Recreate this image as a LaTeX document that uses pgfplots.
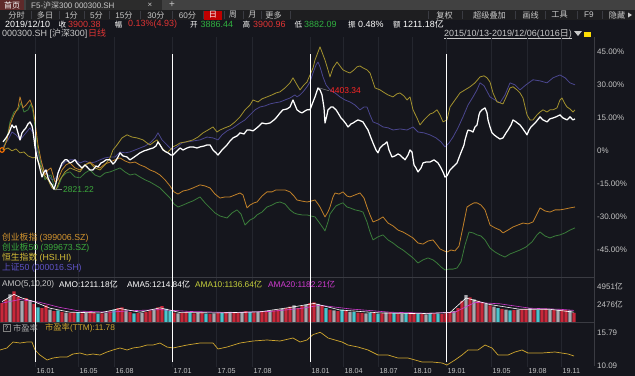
\documentclass[border=0pt]{standalone}
\usepackage{fontspec}
\setmainfont{Liberation Sans}
\newfontfamily\cjk{Noto Sans CJK SC}
\newcommand\zh[1]{{\cjk #1}}
\newcommand\fs[1]{\fontsize{#1}{#1}\selectfont}
\usepackage{pgfplots}
\pgfplotsset{compat=1.18}
\usepackage{pgfplotstable}
\definecolor{bg}{HTML}{15161D}
\definecolor{hdrA}{HTML}{414141}
\definecolor{hdrB}{HTML}{1E1E20}
\definecolor{tabred}{HTML}{5E2A2A}
\definecolor{tabdark}{HTML}{2C2C2C}
\definecolor{txtg}{HTML}{C8C8C8}
\definecolor{sepc}{HTML}{3A3B42}
\definecolor{gridc}{HTML}{24262E}
\definecolor{tickc}{HTML}{C4C4C4}
\definecolor{upred}{HTML}{E03434}
\definecolor{dngreen}{HTML}{30B040}
\definecolor{lnorange}{HTML}{C08029}
\definecolor{lngreen}{HTML}{3A7B3A}
\definecolor{lnhsi}{HTML}{A3922E}
\definecolor{lnpurple}{HTML}{4A468E}
\definecolor{lgorange}{HTML}{D4952E}
\definecolor{lggreen}{HTML}{3CAA3C}
\definecolor{lghsi}{HTML}{D8C038}
\definecolor{lgpurple}{HTML}{5E52C4}
\definecolor{barred}{HTML}{C8283A}
\definecolor{bargrey}{HTML}{A8A8AE}
\definecolor{barcyan}{HTML}{4CC4CC}
\definecolor{ama10}{HTML}{C8D23C}
\definecolor{ama20}{HTML}{D03CD0}
\definecolor{peyel}{HTML}{CFA62E}

\pgfplotstableread{
x v k
2 2600 1
6 3100 1
10 3800 2
14 4200 1
18 3500 1
22 2900 2
26 3300 1
30 3000 2
34 2500 1
38 2000 3
42 1900 1
46 2300 1
50 1700 2
54 1500 1
58 1600 3
62 1400 1
66 1300 2
70 1250 1
74 1300 1
78 1350 3
82 1200 1
86 1300 2
90 1400 1
94 1250 1
98 1150 3
102 1200 1
106 1300 2
110 1450 1
114 1700 3
118 1900 1
122 2000 1
126 1600 2
130 1350 1
134 1200 3
138 1250 1
142 1300 2
146 1400 1
150 1550 1
154 1700 2
158 2000 1
162 2200 1
166 1800 3
170 1500 3
174 1300 1
178 1200 2
182 1250 1
186 1350 1
190 1300 3
194 1200 1
198 1250 2
202 1300 1
206 1150 3
210 1100 1
214 1200 2
218 1250 1
222 1300 3
226 1350 1
230 1400 2
234 1300 1
238 1250 1
242 1350 2
246 1500 1
250 1400 3
254 1300 1
258 1350 2
262 1450 1
266 1500 1
270 1550 2
274 1600 1
278 1700 1
282 1800 2
286 1900 1
290 2100 1
294 2300 2
298 1900 1
302 2200 1
306 2400 2
310 2600 1
314 2700 1
318 2500 2
322 2200 1
326 1900 3
330 1700 1
334 1600 2
338 1500 1
342 1700 3
346 1600 1
350 1400 2
354 1350 3
358 1300 1
362 1250 1
366 1200 2
370 1300 3
374 1250 1
378 1150 3
382 1200 1
386 1300 2
390 1350 1
394 1250 3
398 1150 1
402 1100 2
406 1200 3
410 1300 1
414 1250 1
418 1150 3
422 1100 1
426 1050 2
430 1100 3
434 1200 1
438 1150 3
442 1100 1
446 1200 1
450 1350 1
454 1500 2
458 1900 1
462 2900 1
466 3700 2
470 3400 1
474 3100 2
478 2900 1
482 2700 1
486 2500 2
490 2300 1
494 2100 2
498 1900 3
502 1800 1
506 1700 2
510 1600 3
514 1650 1
518 1700 2
522 1750 1
526 1800 1
530 1900 2
534 1700 1
538 1650 3
542 1750 1
546 1800 1
550 1700 2
554 1650 1
558 1700 2
562 1750 1
566 1650 1
570 1600 2
574 1250 1
}\amo

\pgfplotsset{
  panel/.style={anchor=north west, scale only axis, width=594bp,
    xmin=0, xmax=594, axis line style={draw=none}, major tick length=0pt,
    xtick={35,78,114,172,216,252,310,343,378,412,446,491,527,561},
    xmajorgrids, major grid style={gridc, line width=0.6bp},
    yticklabel pos=right,
    yticklabel style={anchor=west, xshift=3bp, font=\fs{8}, text=tickc, inner sep=0pt},
  },
}

\begin{document}
\begin{tikzpicture}
\begin{scope}[x=1bp,y=-1bp, every node/.style={inner sep=0pt}]
\fill[bg] (0,0) rectangle (635,376);
% row 1
\fill[hdrA] (0,0) rectangle (635,10);
\fill[tabred] (0,0) rectangle (24,10);
\node[font=\fs{8}, text=white] at (12,5) {\zh{首页}};
\fill[tabdark] (26,0) rectangle (162,10);
\node[anchor=west, font=\fs{8}, text=txtg] at (31,5) {F5-\zh{沪深}300 000300.SH};
\node[font=\fs{8}, text=txtg] at (150,5) {×};
\node[font=\fs{10}, text=txtg] at (172,4.5) {+};
% row 2
\fill[hdrB] (0,10) rectangle (635,20);
\foreach \s in {31,59,84,109,140,172,203,224,243,261,290,428,462,515,545,577,602}
  \draw[sepc, line width=0.6bp] (\s,11) -- (\s,19);
\fill[red!75!black] (204,10.5) rectangle (222,19.5);
\begin{scope}[every node/.style={font=\fs{8.2}, text=txtg, inner sep=0pt}]
\node at (16.5,15) {\zh{分时}};
\node at (45,15) {\zh{多日}};
\node at (71.5,15) {1\zh{分}};
\node at (96.5,15) {5\zh{分}};
\node at (124,15) {15\zh{分}};
\node at (156,15) {30\zh{分}};
\node at (187.5,15) {60\zh{分}};
\node[text=white] at (213,15) {\zh{日}};
\node at (233,15) {\zh{周}};
\node at (252.5,15) {\zh{月}};
\node at (273.5,15) {\zh{更多}};
\node at (444.5,15) {\zh{复权}};
\node at (489.5,15) {\zh{超级叠加}};
\node at (530.5,15) {\zh{画线}};
\node at (559.5,15) {\zh{工具}};
\node at (589,15) {F9};
\node at (617,15) {\zh{隐藏}};
\end{scope}
\fill[txtg] (628,12.5) -- (632,15) -- (628,17.5) -- cycle;
% row 3
\begin{scope}[every node/.style={font=\fs{9}, anchor=west, inner sep=0pt, text=white}]
\node at (5,24.5) {2019/12/10};
\node[text=upred] at (68,24.5) {3900.38};
\node[text=upred] at (128,24.5) {0.13\%(4.93)};
\node[text=dngreen] at (200.5,24.5) {3886.44};
\node[text=upred] at (253,24.5) {3900.96};
\node[text=dngreen] at (304,24.5) {3882.09};
\node at (358,24.5) {0.48\%};
\node at (403,24.5) {1211.18\zh{亿}};
% row 4
\node[text=txtg] at (2,33.5) {000300.SH [\zh{沪深}300]};
\node[text=upred] at (88,33.5) {\zh{日线}};
\node[text=txtg] at (444,33.5) {2015/10/13-2019/12/06(1016\zh{日})};
\end{scope}
\begin{scope}[every node/.style={font=\fs{7.6}, inner sep=0pt, text=white}]
\node at (62.5,24.5) {\zh{收}};
\node at (118.5,24.5) {\zh{幅}};
\node at (194,24.5) {\zh{开}};
\node at (246.5,24.5) {\zh{高}};
\node at (298.5,24.5) {\zh{低}};
\node at (352,24.5) {\zh{振}};
\node at (397,24.5) {\zh{额}};
\end{scope}
\draw[txtg, line width=0.5bp] (444,38.3) -- (572,38.3);
\fill[txtg] (574,31) -- (582,31) -- (578,36) -- cycle;
\fill[yellow!80!orange] (584,31.5) rectangle (591,37);
\end{scope}

% ---------------- main panel ----------------
\begin{axis}[panel, at={(0bp,-37bp)}, height=240bp,
  ymin=-57.6, ymax=51.8, xticklabels={},
  ytick={-45,-30,-15,0,15,30,45},
  yticklabels={-45.00\%,-30.00\%,-15.00\%,0\%,15.00\%,30.00\%,45.00\%}]
\addplot[lnpurple, line width=0.8bp, line join=round] coordinates {
(3,1.7)(8,4.9)(12,8.5)(16,7.2)(20,4.9)(25,7.6)(30,10.4)(33,8.1)(36,1.7)(40,-4.2)(44,-8.8)(48,-11.1)(52,-13.3)(56,-12.4)(60,-7.9)(65,-5.2)(70,-4.2)(75,-4.2)(80,-5.6)(85,-4.7)(90,-5.6)(95,-5.2)(100,-4.2)(105,-3.3)(110,-2.9)(115,-2.9)(120,-0.6)(125,-1.0)(130,-0.6)(135,0.3)(140,1.2)(145,2.1)(150,3.5)(155,5.8)(158,8.1)(162,4.9)(167,2.6)(172,0.3)(177,1.7)(182,3.5)(187,4.0)(193,4.4)(200,4.9)(207,6.2)(213,5.8)(218,4.9)(222,7.2)(227,9.0)(233,10.4)(240,12.6)(245,14.0)(250,16.3)(255,18.6)(260,19.9)(265,20.4)(270,21.3)(275,21.8)(280,22.2)(285,23.1)(290,24.0)(295,25.4)(297,24.5)(300,25.4)(303,26.8)(307,29.1)(310,31.3)(313,35.4)(316,39.0)(318,40.4)(320,38.2)(323,33.6)(326,30.0)(330,27.7)(335,26.3)(340,24.5)(345,23.1)(350,22.2)(355,20.8)(360,18.6)(364,19.9)(367,19.9)(370,16.3)(373,13.1)(378,12.2)(383,10.8)(388,10.4)(393,9.4)(400,9.9)(407,9.4)(413,10.8)(418,8.5)(424,8.1)(430,7.2)(436,5.8)(441,4.0)(445,1.7)(449,3.5)(453,6.2)(458,10.4)(463,15.4)(468,20.8)(473,24.5)(477,27.7)(480,30.9)(484,29.6)(490,24.5)(495,23.1)(500,21.8)(505,25.4)(510,30.9)(515,30.0)(520,27.7)(526,30.0)(533,32.3)(540,31.8)(547,30.9)(553,33.2)(560,34.5)(565,33.2)(570,30.9)(575,30.0)};
\addplot[lngreen, line width=0.8bp, line join=round] coordinates {
(3,0.3)(7,5.8)(10,13.1)(14,17.6)(18,18.6)(21,21.8)(24,17.6)(28,18.6)(31,21.3)(33,17.6)(35,10.8)(38,0.3)(41,-6.5)(45,-13.3)(48,-11.5)(51,-11.1)(55,-17.9)(58,-16.6)(62,-12.0)(66,-10.2)(70,-9.7)(75,-12.0)(80,-12.4)(85,-10.2)(90,-8.8)(95,-11.1)(100,-12.0)(105,-10.2)(110,-9.7)(115,-8.8)(120,-7.9)(125,-9.7)(130,-11.1)(135,-10.6)(140,-12.0)(145,-13.3)(150,-14.3)(155,-15.6)(160,-17.0)(165,-19.3)(170,-21.6)(174,-24.3)(178,-25.7)(183,-24.8)(188,-23.8)(193,-22.9)(200,-21.1)(205,-23.8)(210,-26.1)(215,-28.4)(220,-29.8)(227,-30.7)(232,-28.4)(237,-27.0)(241,-28.9)(245,-33.9)(250,-31.6)(254,-30.7)(257,-29.3)(262,-28.0)(267,-25.7)(272,-24.8)(276,-23.8)(280,-23.4)(285,-24.3)(290,-27.0)(294,-28.4)(297,-28.9)(302,-29.3)(307,-29.3)(311,-29.8)(315,-30.2)(318,-32.0)(321,-33.9)(323,-35.2)(325,-36.6)(328,-32.5)(330,-28.9)(333,-27.0)(336,-25.2)(340,-24.3)(343,-23.8)(347,-25.7)(350,-26.1)(355,-27.0)(360,-27.5)(363,-28.0)(367,-32.5)(370,-37.1)(373,-40.7)(378,-39.3)(383,-38.4)(388,-40.7)(393,-42.1)(398,-43.9)(403,-45.3)(408,-47.1)(413,-48.9)(418,-51.2)(423,-49.8)(428,-48.9)(433,-49.8)(437,-51.2)(441,-53.0)(445,-54.4)(449,-54.0)(453,-54.0)(457,-53.5)(461,-50.7)(465,-43.0)(469,-37.1)(473,-37.5)(477,-38.4)(481,-38.9)(485,-40.7)(490,-44.4)(495,-46.2)(500,-47.5)(505,-48.5)(510,-47.1)(515,-46.2)(520,-45.3)(526,-43.9)(532,-41.6)(537,-38.4)(540,-37.1)(545,-38.9)(550,-39.8)(555,-38.9)(560,-38.4)(565,-37.5)(570,-36.2)(575,-35.2)};
\addplot[lnorange, line width=0.8bp, line join=round] coordinates {
(3,0.3)(7,4.9)(10,11.7)(14,16.3)(18,19.5)(20,24.5)(23,19.5)(26,20.8)(30,23.1)(33,19.5)(35,13.1)(38,2.6)(41,-4.2)(45,-11.1)(48,-8.8)(51,-7.9)(55,-14.3)(58,-13.3)(62,-8.8)(66,-6.5)(70,-5.6)(75,-7.9)(80,-8.8)(85,-6.5)(90,-5.2)(95,-7.0)(100,-7.9)(105,-6.1)(110,-5.2)(115,-4.2)(120,-3.3)(125,-4.7)(130,-5.6)(135,-5.2)(140,-6.5)(145,-7.4)(150,-8.8)(155,-9.7)(160,-11.1)(165,-13.3)(170,-16.1)(174,-18.8)(178,-19.8)(183,-18.4)(188,-17.9)(193,-17.0)(200,-15.6)(205,-16.1)(210,-17.0)(215,-19.8)(220,-21.6)(225,-21.1)(230,-21.1)(235,-20.2)(240,-19.3)(243,-20.2)(247,-26.1)(250,-24.8)(254,-23.8)(257,-23.4)(262,-20.7)(267,-18.8)(272,-18.8)(276,-17.9)(280,-17.9)(285,-17.9)(290,-18.8)(294,-20.7)(297,-22.5)(302,-23.0)(307,-23.4)(311,-23.0)(315,-22.5)(318,-24.3)(320,-25.7)(323,-28.4)(325,-30.2)(328,-27.9)(330,-25.7)(333,-21.1)(335,-19.3)(339,-19.8)(343,-18.8)(347,-20.7)(350,-21.1)(355,-20.2)(360,-19.3)(364,-21.6)(367,-25.7)(370,-29.3)(373,-32.5)(378,-31.6)(383,-30.2)(388,-33.0)(393,-34.3)(398,-36.2)(403,-37.1)(408,-38.4)(413,-39.8)(418,-42.1)(423,-42.6)(428,-41.2)(433,-40.7)(437,-43.0)(440,-44.8)(444,-45.7)(447,-46.2)(451,-45.3)(455,-45.7)(459,-43.5)(463,-34.8)(467,-25.7)(470,-24.8)(474,-23.8)(477,-23.8)(481,-24.8)(485,-27.0)(490,-33.9)(495,-35.2)(500,-36.2)(503,-37.5)(508,-36.2)(513,-34.8)(518,-33.9)(523,-33.0)(528,-33.4)(533,-32.5)(537,-28.9)(540,-26.1)(545,-27.5)(550,-28.0)(555,-27.0)(560,-27.0)(565,-26.6)(570,-26.1)(575,-25.7)};
\addplot[lnhsi, line width=0.8bp, line join=round] coordinates {
(3,0.3)(8,1.2)(12,-0.1)(16,0.8)(20,-1.0)(24,-0.6)(28,-2.4)(33,-3.3)(36,-2.9)(40,-6.5)(44,-11.1)(48,-13.3)(52,-17.0)(56,-17.9)(60,-13.3)(65,-9.7)(70,-7.9)(75,-8.8)(80,-9.7)(85,-6.5)(90,-5.6)(95,-7.9)(100,-8.8)(105,-6.5)(110,-3.3)(113,0.3)(117,2.6)(122,5.8)(127,7.2)(132,6.2)(137,5.8)(143,4.9)(147,3.5)(150,2.6)(154,4.0)(157,4.9)(162,1.2)(167,-1.0)(170,0.3)(173,1.7)(177,2.6)(180,3.5)(186,4.0)(193,4.9)(198,6.2)(203,8.1)(208,9.4)(213,10.8)(217,8.5)(220,9.4)(225,10.4)(230,11.3)(235,13.1)(240,15.4)(245,18.6)(250,20.8)(253,23.1)(258,22.2)(262,23.6)(267,24.5)(272,25.4)(276,26.3)(280,26.8)(285,28.6)(290,30.9)(293,33.2)(297,30.0)(300,27.7)(304,30.0)(307,31.3)(310,34.5)(313,37.7)(315,41.3)(318,44.9)(320,47.3)(322,44.9)(325,41.3)(328,36.8)(330,33.6)(333,37.7)(337,40.4)(340,38.6)(343,36.8)(347,35.9)(350,35.4)(354,36.8)(357,38.2)(360,38.6)(363,37.7)(367,36.8)(370,35.4)(373,31.3)(375,28.6)(380,27.7)(383,26.8)(388,25.4)(393,24.5)(397,25.9)(400,26.3)(404,24.9)(407,23.1)(410,24.5)(413,18.6)(417,14.9)(420,11.7)(424,14.0)(427,15.4)(430,16.7)(433,17.2)(437,18.6)(440,16.3)(443,13.1)(447,14.0)(450,19.9)(455,23.1)(460,26.3)(465,27.7)(470,29.1)(475,30.9)(480,33.6)(484,34.1)(487,33.2)(490,31.3)(493,26.3)(497,22.2)(500,21.8)(503,21.3)(507,25.4)(510,28.6)(513,29.1)(517,27.7)(520,26.3)(523,24.0)(527,16.3)(530,14.0)(533,14.0)(537,16.3)(540,17.6)(543,18.6)(547,17.6)(550,18.6)(553,18.6)(557,19.5)(560,23.1)(562,24.0)(565,21.3)(567,19.9)(570,19.0)(573,17.6)(575,18.6)};
\addplot[white, line width=1.25bp, line join=round] coordinates {
(3,4.0)(6,5.8)(9,8.1)(12,11.7)(14,10.4)(16,11.3)(18,8.1)(20,4.9)(22,8.1)(24,9.4)(26,10.4)(28,12.2)(30,13.1)(32,11.3)(33,9.0)(35,1.7)(37,-2.9)(39,-6.5)(42,-12.0)(44,-9.7)(46,-8.8)(48,-12.4)(50,-14.3)(52,-15.6)(54,-17.6)(56,-14.7)(58,-10.2)(60,-7.9)(62,-5.6)(65,-4.2)(67,-4.2)(70,-5.6)(72,-5.2)(75,-4.2)(77,-5.6)(80,-7.0)(82,-7.9)(85,-6.5)(87,-7.4)(90,-8.8)(93,-8.8)(96,-7.0)(98,-7.4)(101,-5.6)(103,-5.2)(106,-4.2)(110,-4.2)(113,-6.1)(115,-5.2)(118,-2.9)(120,-1.0)(123,-2.4)(127,-2.9)(130,-4.2)(133,-3.3)(137,-2.0)(140,-1.0)(144,-0.1)(147,0.3)(150,0.8)(153,1.2)(156,2.1)(158,4.0)(160,2.6)(163,0.3)(166,-0.6)(168,-1.0)(171,-2.0)(173,-2.0)(176,-0.6)(180,1.2)(183,0.3)(187,1.2)(190,1.7)(193,1.7)(197,1.2)(200,1.7)(204,2.1)(207,2.6)(210,2.6)(213,0.3)(216,-1.0)(218,-2.0)(222,0.3)(225,1.7)(227,2.6)(230,4.4)(233,5.8)(237,6.7)(240,8.1)(244,7.6)(247,9.4)(250,9.4)(253,9.0)(257,10.4)(260,11.7)(262,12.6)(266,12.2)(270,12.6)(274,14.0)(277,15.4)(280,17.2)(283,18.6)(287,19.0)(290,19.9)(293,23.1)(295,20.8)(297,18.6)(300,17.6)(302,17.2)(305,18.1)(307,18.6)(310,18.6)(313,22.2)(315,24.5)(318,28.6)(320,27.7)(322,25.4)(324,19.5)(325,12.6)(327,16.3)(328,18.6)(331,19.9)(333,19.9)(336,18.6)(338,17.2)(341,14.9)(343,14.0)(346,12.2)(348,10.8)(351,12.2)(353,12.6)(356,13.5)(358,14.0)(361,13.5)(363,13.1)(366,10.8)(368,9.4)(371,5.8)(373,3.5)(376,0.3)(378,-1.0)(380,1.2)(383,2.6)(385,3.1)(387,4.0)(389,0.3)(392,-2.9)(395,-2.4)(398,-1.5)(400,-2.0)(403,-3.3)(405,-4.2)(408,-2.0)(410,0.3)(412,-0.6)(414,-6.5)(416,-7.9)(418,-9.7)(421,-7.9)(423,-5.6)(426,-5.2)(430,-5.2)(434,-4.2)(438,-5.6)(441,-7.9)(443,-9.7)(445,-12.0)(447,-11.5)(450,-8.8)(453,-7.4)(457,-5.6)(460,-2.0)(462,0.3)(464,2.6)(465,4.9)(467,8.1)(468,9.4)(471,9.0)(473,8.5)(475,10.8)(477,11.7)(479,16.3)(480,17.6)(482,18.6)(485,19.5)(487,17.2)(488,14.0)(490,10.8)(492,8.1)(494,7.2)(497,6.2)(500,5.3)(503,5.8)(506,8.1)(508,9.4)(511,11.7)(513,14.0)(516,13.1)(520,11.7)(523,9.9)(527,7.2)(529,9.4)(531,10.8)(533,11.7)(536,13.1)(540,15.4)(543,14.0)(547,13.1)(550,14.5)(553,14.9)(556,15.4)(560,16.3)(563,14.9)(567,14.0)(570,15.4)(573,14.0)(575,14.5)};
\addplot[only marks, mark=o, mark size=2.3bp, draw=orange!90!red, line width=1.1bp] coordinates {(2,0.3)};
\draw[gray, line width=0.5bp] (axis cs:55,-17.6) -- (axis cs:62,-17.6);
\node[anchor=west, inner sep=0pt, font=\fs{8.5}, text=lggreen] at (axis cs:63,-17.6) {2821.22};
\draw[gray, line width=0.5bp] (axis cs:319,28.6) -- (axis cs:329,27.3);
\node[anchor=west, inner sep=0pt, font=\fs{8.5}, text=red!80!pink] at (axis cs:330,27.3) {4403.34};
\end{axis}

% ---------------- AMO panel ----------------
\begin{axis}[panel, at={(0bp,-277bp)}, height=45bp,
  ymin=0, ymax=6190, xticklabels={},
  ytick={2476,4951}, yticklabels={2476\zh{亿},4951\zh{亿}}]
\addplot[ybar, bar width=3.4, bar shift=0pt, fill=barred, draw=none]
  table[x=x, y expr={\thisrow{k}==1 ? \thisrow{v} : 0}] {\amo};
\addplot[ybar, bar width=3.4, bar shift=0pt, fill=bargrey, draw=none]
  table[x=x, y expr={\thisrow{k}==2 ? \thisrow{v} : 0}] {\amo};
\addplot[ybar, bar width=3.4, bar shift=0pt, fill=barcyan, draw=none]
  table[x=x, y expr={\thisrow{k}==3 ? \thisrow{v} : 0}] {\amo};
\addplot[ama20, line width=0.6bp] coordinates {(2,2600)(20,3100)(40,2700)(60,2000)(80,1500)(110,1350)(130,1550)(160,1700)(190,1450)(230,1300)(270,1450)(300,1850)(320,2300)(350,1800)(390,1350)(430,1200)(455,1350)(475,2700)(500,2500)(530,1900)(560,1750)(574,1600)};
\addplot[white, line width=0.6bp] coordinates {(2,2800)(14,3800)(22,3300)(34,2800)(50,1900)(70,1350)(100,1250)(120,1850)(140,1350)(160,1950)(180,1300)(220,1250)(260,1400)(290,2000)(314,2550)(340,1650)(380,1250)(420,1150)(450,1300)(466,3300)(490,2400)(520,1750)(550,1750)(574,1350)};
\end{axis}

% ---------------- PE panel ----------------
\begin{axis}[panel, at={(0bp,-322.5bp)}, height=44bp,
  ymin=10.005, ymax=17.45,
  xticklabels={16.01,16.05,16.08,17.01,17.05,17.08,18.01,18.04,18.07,18.10,19.01,19.05,19.08,19.11},
  xticklabel style={anchor=north west, xshift=1.5bp, yshift=-1.5bp, font=\fs{7.2}, text=tickc, inner sep=0pt},
  ytick={10.09,15.79}, yticklabels={10.09,15.79}]
\addplot[peyel, line width=0.7bp, line join=round] coordinates {
(0,12.80)(7,13.14)(13,14.15)(20,13.98)(27,14.15)(32,14.15)(35,12.80)(40,11.95)(47,11.11)(53,11.44)(60,11.61)(67,11.61)(73,12.12)(80,12.29)(87,11.95)(93,12.12)(100,11.95)(107,12.46)(113,12.80)(120,13.14)(127,12.80)(133,13.14)(140,13.30)(147,13.64)(153,13.64)(160,13.98)(167,13.30)(173,13.14)(187,13.64)(200,13.98)(213,13.98)(218,12.97)(227,13.30)(240,13.98)(253,14.32)(267,14.49)(280,14.32)(293,14.83)(300,14.15)(307,14.49)(313,15.40)(320,15.79)(322,15.60)(328,14.83)(335,14.49)(342,14.15)(348,13.64)(358,13.30)(368,12.80)(378,11.95)(388,11.95)(398,11.44)(408,11.44)(415,11.11)(422,10.77)(432,10.77)(442,10.60)(447,10.26)(455,11.11)(462,11.95)(468,12.80)(478,12.80)(485,13.64)(492,13.14)(498,11.95)(508,11.95)(515,12.46)(522,12.80)(528,12.29)(542,12.29)(555,12.46)(568,12.12)(574,11.78)};
\end{axis}

% ---------------- overlays ----------------
\begin{scope}[x=1bp,y=-1bp, every node/.style={inner sep=0pt}]
\draw[sepc, line width=0.7bp] (0,277) -- (594,277);
\draw[sepc, line width=0.7bp] (0,322.5) -- (594,322.5);
\draw[sepc, line width=0.7bp] (594,37) -- (594,366);
\foreach \xx in {35,172,310,446}
  \draw[white, line width=0.9bp] (\xx,54) -- (\xx,362);
\begin{scope}[every node/.style={font=\fs{8.8}, anchor=west, inner sep=0pt}]
\node[text=lgorange] at (2,238) {\zh{创业板指} (399006.SZ)};
\node[text=lggreen] at (2,248) {\zh{创业板}50 (399673.SZ)};
\node[text=lghsi] at (2,258) {\zh{恒生指数} (HSI.HI)};
\node[text=lgpurple] at (2,268) {\zh{上证}50 (000016.SH)};
\end{scope}
\begin{scope}[every node/.style={font=\fs{8.3}, anchor=west, inner sep=0pt}]
\node[text=txtg] at (2,284) {AMO(5,10,20)};
\node[text=white] at (59,284) {AMO:1211.18\zh{亿}};
\node[text=white] at (127,284) {AMA5:1214.84\zh{亿}};
\node[text=ama10] at (195,284) {AMA10:1136.64\zh{亿}};
\node[text=ama20] at (268,284) {AMA20:1182.21\zh{亿}};
\draw[gray, line width=0.5bp] (3,324) rectangle (10,331.5);
\node[anchor=center, font=\fs{6.5}, text=txtg] at (6.5,327.8) {?};
\node[text=txtg!85!black] at (13,328) {\zh{市盈率}};
\node[text=peyel] at (45,328) {\zh{市盈率}(TTM):11.78};
\end{scope}
\end{scope}
\pgfresetboundingbox
\path[use as bounding box] (0,0) rectangle (635bp,-376bp);
\end{tikzpicture}
\end{document}
